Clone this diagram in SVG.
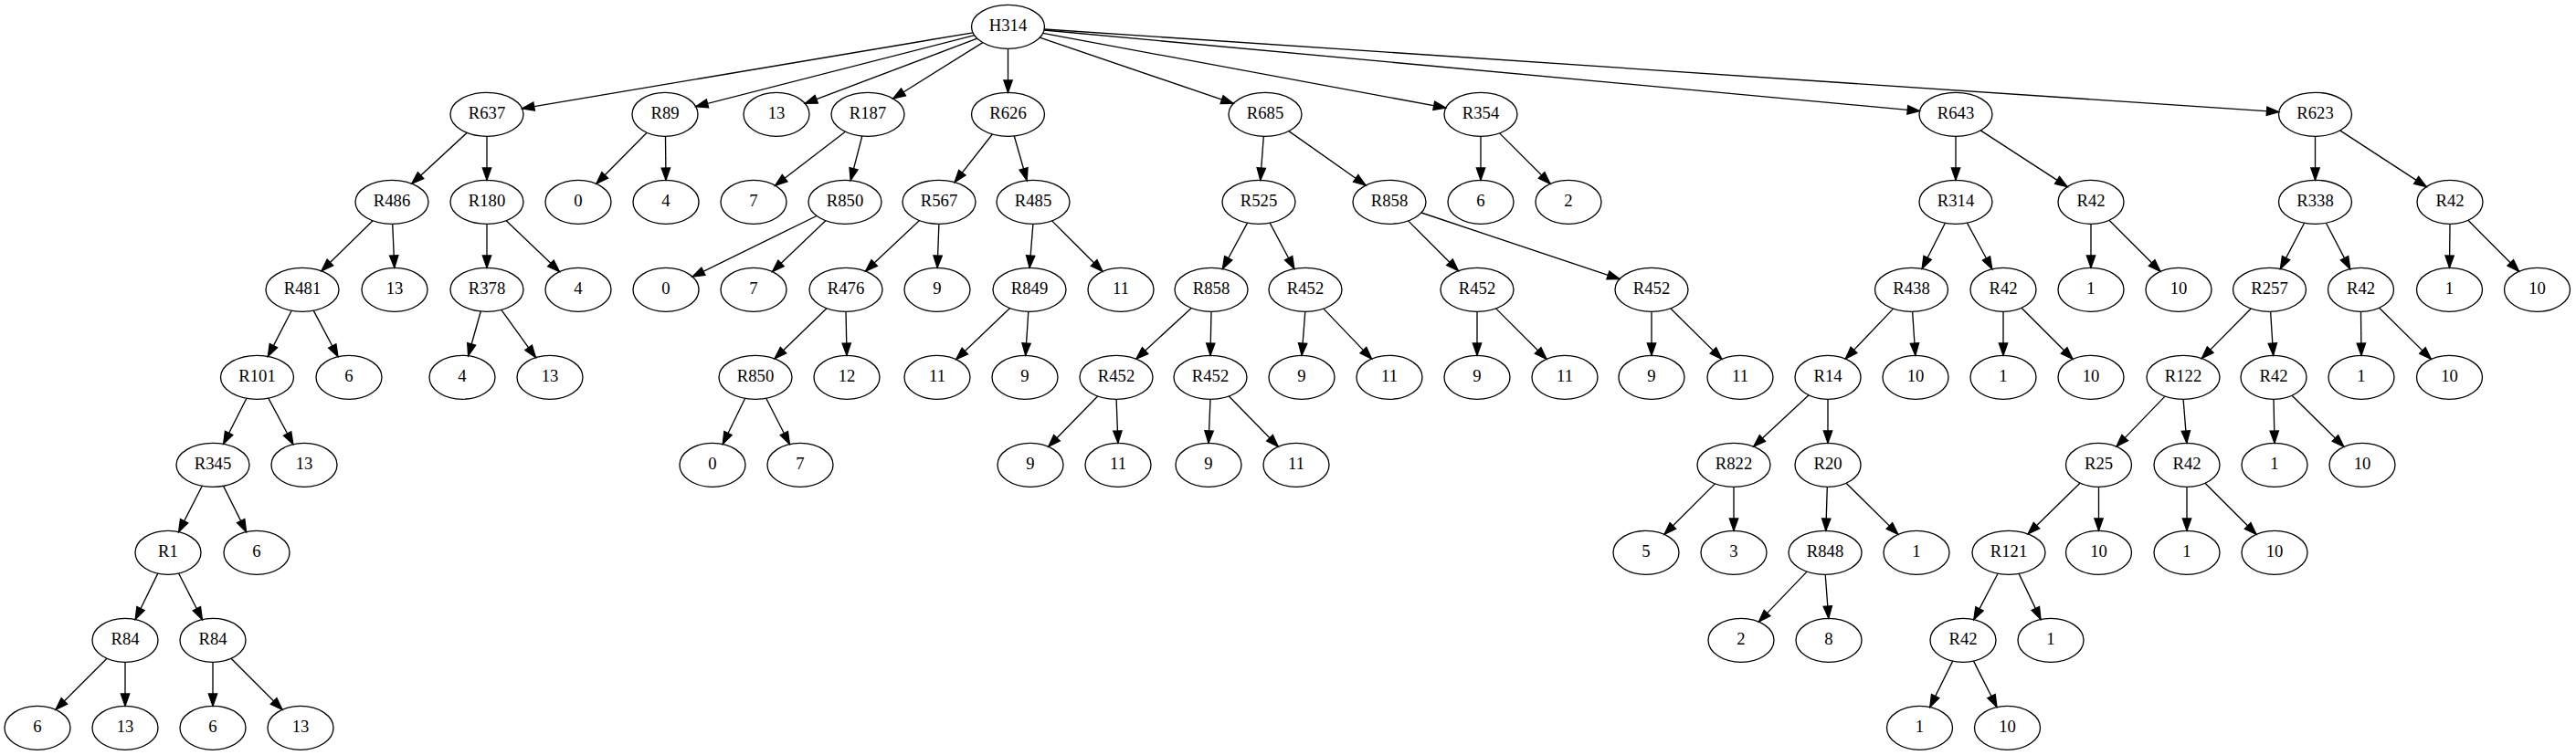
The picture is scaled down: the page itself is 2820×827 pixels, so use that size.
<svg xmlns="http://www.w3.org/2000/svg" width="2820" height="827" viewBox="0 0 2820 827">
<style>
.n ellipse{fill:none;stroke:#000;stroke-width:1.33}
.n text{font-family:"Liberation Serif","Times New Roman",serif;font-size:18.67px;text-anchor:middle;fill:#000}
#edges path{fill:none;stroke:#000;stroke-width:1.33;marker-end:url(#arr)}
</style>
<defs>
<marker id="arr" markerUnits="userSpaceOnUse" markerWidth="16" markerHeight="12" refX="13.3" refY="4.67" orient="auto" overflow="visible">
<path d="M0,0 L13.3,4.67 L0,9.33 Z" fill="#000" stroke="#000" stroke-width="1.33"/>
</marker>
</defs>
<rect width="2820" height="827" fill="#fff"/>
<g id="edges">
<path d="M1065.0,35.8L571.5,118.8"/>
<path d="M1066.7,38.7L761.6,116.7"/>
<path d="M1069.7,42.1L881.3,113.4"/>
<path d="M1075.8,46.6L977.7,108.0"/>
<path d="M1103.5,53.3L1103.5,101.3"/>
<path d="M1138.3,41.2L1350.2,113.4"/>
<path d="M1141.7,36.4L1582.8,118.2"/>
<path d="M1143.0,33.0L2101.5,121.6"/>
<path d="M1143.3,32.0L2494.8,122.6"/>
<path d="M511.2,145.4L450.8,201.2"/>
<path d="M533,149.3L533,197.3"/>
<path d="M708.2,145.3L652.8,201.3"/>
<path d="M728.5,149.3L729,197.3"/>
<path d="M925.4,144.2L848.6,203.2"/>
<path d="M943.8,149.0L931.2,197.6"/>
<path d="M1086.4,147.0L1045.1,199.6"/>
<path d="M1110.3,149.0L1124.2,197.7"/>
<path d="M1383.3,149.3L1379.8,197.3"/>
<path d="M1410.9,143.6L1495.1,203.0"/>
<path d="M1621,149.3L1621,197.3"/>
<path d="M1641.6,145.9L1697.0,201.3"/>
<path d="M2141,149.3L2141,197.3"/>
<path d="M2168.2,142.9L2263.2,204.6"/>
<path d="M2534.5,149.3L2534.5,197.3"/>
<path d="M2561.6,142.9L2656.3,204.6"/>
<path d="M408.1,241.8L351.9,296.8"/>
<path d="M429.7,245.3L431.8,293.3"/>
<path d="M533,245.3L533,293.3"/>
<path d="M554.2,241.7L612.5,297.6"/>
<path d="M894.0,236.5L758.0,303.1"/>
<path d="M903.8,241.7L845.5,297.6"/>
<path d="M1006.5,241.5L947.5,297.1"/>
<path d="M1027.9,245.3L1026.1,293.3"/>
<path d="M1130.9,245.3L1127.1,293.3"/>
<path d="M1151.6,241.9L1207.0,297.3"/>
<path d="M1365.6,244.1L1338.4,294.5"/>
<path d="M1390.1,244.1L1416.9,294.5"/>
<path d="M1541.6,241.9L1596.4,296.7"/>
<path d="M1556.0,233.0L1773.0,305.7"/>
<path d="M2129.4,244.3L2104.1,294.3"/>
<path d="M2153.4,244.1L2180.8,294.7"/>
<path d="M2289,245.3L2289,293.3"/>
<path d="M2309.0,241.3L2365.0,297.3"/>
<path d="M2522.6,244.2L2496.4,294.4"/>
<path d="M2546.4,244.2L2572.7,294.6"/>
<path d="M2682,245.3L2681.5,293.3"/>
<path d="M2701.9,241.3L2757.6,297.3"/>
<path d="M319.2,340.2L293.3,390.4"/>
<path d="M343.2,340.1L370.0,390.7"/>
<path d="M526.3,341.0L512.6,389.7"/>
<path d="M548.8,339.3L586.4,391.7"/>
<path d="M905.0,337.7L848.0,392.9"/>
<path d="M926,341.3L927,389.3"/>
<path d="M1105.6,337.6L1046.7,393.7"/>
<path d="M1125.8,341.3L1122.7,389.3"/>
<path d="M1304.2,337.4L1243.8,393.2"/>
<path d="M1326,341.3L1325,389.3"/>
<path d="M1428.8,341.3L1425.1,389.3"/>
<path d="M1448.9,338.1L1501.6,393.1"/>
<path d="M1617,341.3L1617,389.3"/>
<path d="M1637.6,337.9L1693.0,393.3"/>
<path d="M1808,341.3L1808,389.3"/>
<path d="M1828.7,337.8L1884.9,393.4"/>
<path d="M2072.6,338.1L2020.3,393.0"/>
<path d="M2093.6,341.3L2096.8,389.3"/>
<path d="M2193,341.3L2193,389.3"/>
<path d="M2213,337.3L2269,393.3"/>
<path d="M2464.2,338.0L2410.3,392.6"/>
<path d="M2485.6,341.3L2488.6,389.3"/>
<path d="M2584.5,341.3L2585,389.3"/>
<path d="M2604.6,337.2L2661.4,393.4"/>
<path d="M269.9,436.3L244.6,486.3"/>
<path d="M293.8,436.1L320.9,486.7"/>
<path d="M815.7,436.3L791.2,486.5"/>
<path d="M838.7,436.3L864.4,486.5"/>
<path d="M1201.7,434.0L1147.7,489.2"/>
<path d="M1222.1,437.3L1223.9,485.3"/>
<path d="M1325,437.3L1323,485.3"/>
<path d="M1345.3,434.0L1399.3,489.2"/>
<path d="M1980.1,432.8L1919.7,489.1"/>
<path d="M2001,437.3L2001,485.3"/>
<path d="M2370.0,434.1L2317.0,489.1"/>
<path d="M2390.1,437.3L2393.9,485.3"/>
<path d="M2489,437.3L2490,485.3"/>
<path d="M2509.1,433.2L2565.9,489.4"/>
<path d="M221.3,532.3L195.6,582.6"/>
<path d="M244.5,532.3L269.6,582.6"/>
<path d="M1877.4,529.9L1822.0,585.3"/>
<path d="M1898,533.3L1898,581.3"/>
<path d="M2000.3,533.3L1998.8,581.3"/>
<path d="M2021.1,529.2L2077.9,585.4"/>
<path d="M2277.2,529.1L2220.0,584.9"/>
<path d="M2297.5,533.3L2297.5,581.3"/>
<path d="M2394,533.3L2394,581.3"/>
<path d="M2414,529.3L2470,585.3"/>
<path d="M172.8,628.1L148.2,678.5"/>
<path d="M195.6,628.0L221.4,678.6"/>
<path d="M1978.1,626.1L1925.4,681.1"/>
<path d="M1998.2,629.3L2001.8,677.3"/>
<path d="M2187.1,628.2L2160.8,678.6"/>
<path d="M2210.1,628.4L2234.0,678.4"/>
<path d="M117,721.3L61,777.3"/>
<path d="M137,725.3L137,773.3"/>
<path d="M233,725.3L233,773.3"/>
<path d="M253,721.3L309,777.3"/>
<path d="M2137.7,724.1L2112.8,774.5"/>
<path d="M2160.5,724.1L2186.0,774.5"/>
</g>
<g id="n0" class="n"><ellipse cx="1103.5" cy="29.3" rx="40" ry="24"/><text x="1103.5" y="34.3">H314</text></g>
<g id="n1" class="n"><ellipse cx="533" cy="125.3" rx="40" ry="24"/><text x="533" y="130.3">R637</text></g>
<g id="n2" class="n"><ellipse cx="728" cy="125.3" rx="36" ry="24"/><text x="728" y="130.3">R89</text></g>
<g id="n3" class="n"><ellipse cx="850" cy="125.3" rx="36" ry="24"/><text x="850" y="130.3">13</text></g>
<g id="n4" class="n"><ellipse cx="950" cy="125.3" rx="40" ry="24"/><text x="950" y="130.3">R187</text></g>
<g id="n5" class="n"><ellipse cx="1103.5" cy="125.3" rx="40" ry="24"/><text x="1103.5" y="130.3">R626</text></g>
<g id="n6" class="n"><ellipse cx="1385" cy="125.3" rx="40" ry="24"/><text x="1385" y="130.3">R685</text></g>
<g id="n7" class="n"><ellipse cx="1621" cy="125.3" rx="40" ry="24"/><text x="1621" y="130.3">R354</text></g>
<g id="n8" class="n"><ellipse cx="2141" cy="125.3" rx="40" ry="24"/><text x="2141" y="130.3">R643</text></g>
<g id="n9" class="n"><ellipse cx="2534.5" cy="125.3" rx="40" ry="24"/><text x="2534.5" y="130.3">R623</text></g>
<g id="n10" class="n"><ellipse cx="429" cy="221.3" rx="40" ry="24"/><text x="429" y="226.3">R486</text></g>
<g id="n11" class="n"><ellipse cx="533" cy="221.3" rx="40" ry="24"/><text x="533" y="226.3">R180</text></g>
<g id="n12" class="n"><ellipse cx="633" cy="221.3" rx="36" ry="24"/><text x="633" y="226.3">0</text></g>
<g id="n13" class="n"><ellipse cx="729" cy="221.3" rx="36" ry="24"/><text x="729" y="226.3">4</text></g>
<g id="n14" class="n"><ellipse cx="825" cy="221.3" rx="36" ry="24"/><text x="825" y="226.3">7</text></g>
<g id="n15" class="n"><ellipse cx="925" cy="221.3" rx="40" ry="24"/><text x="925" y="226.3">R850</text></g>
<g id="n16" class="n"><ellipse cx="1028" cy="221.3" rx="40" ry="24"/><text x="1028" y="226.3">R567</text></g>
<g id="n17" class="n"><ellipse cx="1131" cy="221.3" rx="40" ry="24"/><text x="1131" y="226.3">R485</text></g>
<g id="n18" class="n"><ellipse cx="1378" cy="221.3" rx="40" ry="24"/><text x="1378" y="226.3">R525</text></g>
<g id="n19" class="n"><ellipse cx="1521" cy="221.3" rx="40" ry="24"/><text x="1521" y="226.3">R858</text></g>
<g id="n20" class="n"><ellipse cx="1621" cy="221.3" rx="36" ry="24"/><text x="1621" y="226.3">6</text></g>
<g id="n21" class="n"><ellipse cx="1717" cy="221.3" rx="36" ry="24"/><text x="1717" y="226.3">2</text></g>
<g id="n22" class="n"><ellipse cx="2141" cy="221.3" rx="40" ry="24"/><text x="2141" y="226.3">R314</text></g>
<g id="n23" class="n"><ellipse cx="2289" cy="221.3" rx="36" ry="24"/><text x="2289" y="226.3">R42</text></g>
<g id="n24" class="n"><ellipse cx="2534.5" cy="221.3" rx="40" ry="24"/><text x="2534.5" y="226.3">R338</text></g>
<g id="n25" class="n"><ellipse cx="2682" cy="221.3" rx="36" ry="24"/><text x="2682" y="226.3">R42</text></g>
<g id="n26" class="n"><ellipse cx="331" cy="317.3" rx="40" ry="24"/><text x="331" y="322.3">R481</text></g>
<g id="n27" class="n"><ellipse cx="432" cy="317.3" rx="36" ry="24"/><text x="432" y="322.3">13</text></g>
<g id="n28" class="n"><ellipse cx="533" cy="317.3" rx="40" ry="24"/><text x="533" y="322.3">R378</text></g>
<g id="n29" class="n"><ellipse cx="633" cy="317.3" rx="36" ry="24"/><text x="633" y="322.3">4</text></g>
<g id="n30" class="n"><ellipse cx="729" cy="317.3" rx="36" ry="24"/><text x="729" y="322.3">0</text></g>
<g id="n31" class="n"><ellipse cx="825" cy="317.3" rx="36" ry="24"/><text x="825" y="322.3">7</text></g>
<g id="n32" class="n"><ellipse cx="926" cy="317.3" rx="40" ry="24"/><text x="926" y="322.3">R476</text></g>
<g id="n33" class="n"><ellipse cx="1026" cy="317.3" rx="36" ry="24"/><text x="1026" y="322.3">9</text></g>
<g id="n34" class="n"><ellipse cx="1127" cy="317.3" rx="40" ry="24"/><text x="1127" y="322.3">R849</text></g>
<g id="n35" class="n"><ellipse cx="1227" cy="317.3" rx="36" ry="24"/><text x="1227" y="322.3">11</text></g>
<g id="n36" class="n"><ellipse cx="1326" cy="317.3" rx="40" ry="24"/><text x="1326" y="322.3">R858</text></g>
<g id="n37" class="n"><ellipse cx="1429" cy="317.3" rx="40" ry="24"/><text x="1429" y="322.3">R452</text></g>
<g id="n38" class="n"><ellipse cx="1617" cy="317.3" rx="40" ry="24"/><text x="1617" y="322.3">R452</text></g>
<g id="n39" class="n"><ellipse cx="1808" cy="317.3" rx="40" ry="24"/><text x="1808" y="322.3">R452</text></g>
<g id="n40" class="n"><ellipse cx="2092.5" cy="317.3" rx="40" ry="24"/><text x="2092.5" y="322.3">R438</text></g>
<g id="n41" class="n"><ellipse cx="2193" cy="317.3" rx="36" ry="24"/><text x="2193" y="322.3">R42</text></g>
<g id="n42" class="n"><ellipse cx="2289" cy="317.3" rx="36" ry="24"/><text x="2289" y="322.3">1</text></g>
<g id="n43" class="n"><ellipse cx="2385" cy="317.3" rx="36" ry="24"/><text x="2385" y="322.3">10</text></g>
<g id="n44" class="n"><ellipse cx="2484.5" cy="317.3" rx="40" ry="24"/><text x="2484.5" y="322.3">R257</text></g>
<g id="n45" class="n"><ellipse cx="2584.5" cy="317.3" rx="36" ry="24"/><text x="2584.5" y="322.3">R42</text></g>
<g id="n46" class="n"><ellipse cx="2681.5" cy="317.3" rx="36" ry="24"/><text x="2681.5" y="322.3">1</text></g>
<g id="n47" class="n"><ellipse cx="2777.5" cy="317.3" rx="36" ry="24"/><text x="2777.5" y="322.3">10</text></g>
<g id="n48" class="n"><ellipse cx="281.5" cy="413.3" rx="40" ry="24"/><text x="281.5" y="418.3">R101</text></g>
<g id="n49" class="n"><ellipse cx="382" cy="413.3" rx="36" ry="24"/><text x="382" y="418.3">6</text></g>
<g id="n50" class="n"><ellipse cx="506" cy="413.3" rx="36" ry="24"/><text x="506" y="418.3">4</text></g>
<g id="n51" class="n"><ellipse cx="602" cy="413.3" rx="36" ry="24"/><text x="602" y="418.3">13</text></g>
<g id="n52" class="n"><ellipse cx="827" cy="413.3" rx="40" ry="24"/><text x="827" y="418.3">R850</text></g>
<g id="n53" class="n"><ellipse cx="927" cy="413.3" rx="36" ry="24"/><text x="927" y="418.3">12</text></g>
<g id="n54" class="n"><ellipse cx="1026" cy="413.3" rx="36" ry="24"/><text x="1026" y="418.3">11</text></g>
<g id="n55" class="n"><ellipse cx="1122" cy="413.3" rx="36" ry="24"/><text x="1122" y="418.3">9</text></g>
<g id="n56" class="n"><ellipse cx="1222" cy="413.3" rx="40" ry="24"/><text x="1222" y="418.3">R452</text></g>
<g id="n57" class="n"><ellipse cx="1325" cy="413.3" rx="40" ry="24"/><text x="1325" y="418.3">R452</text></g>
<g id="n58" class="n"><ellipse cx="1425" cy="413.3" rx="36" ry="24"/><text x="1425" y="418.3">9</text></g>
<g id="n59" class="n"><ellipse cx="1521" cy="413.3" rx="36" ry="24"/><text x="1521" y="418.3">11</text></g>
<g id="n60" class="n"><ellipse cx="1617" cy="413.3" rx="36" ry="24"/><text x="1617" y="418.3">9</text></g>
<g id="n61" class="n"><ellipse cx="1713" cy="413.3" rx="36" ry="24"/><text x="1713" y="418.3">11</text></g>
<g id="n62" class="n"><ellipse cx="1808" cy="413.3" rx="36" ry="24"/><text x="1808" y="418.3">9</text></g>
<g id="n63" class="n"><ellipse cx="1905" cy="413.3" rx="36" ry="24"/><text x="1905" y="418.3">11</text></g>
<g id="n64" class="n"><ellipse cx="2001" cy="413.3" rx="36" ry="24"/><text x="2001" y="418.3">R14</text></g>
<g id="n65" class="n"><ellipse cx="2097" cy="413.3" rx="36" ry="24"/><text x="2097" y="418.3">10</text></g>
<g id="n66" class="n"><ellipse cx="2193" cy="413.3" rx="36" ry="24"/><text x="2193" y="418.3">1</text></g>
<g id="n67" class="n"><ellipse cx="2289" cy="413.3" rx="36" ry="24"/><text x="2289" y="418.3">10</text></g>
<g id="n68" class="n"><ellipse cx="2390" cy="413.3" rx="40" ry="24"/><text x="2390" y="418.3">R122</text></g>
<g id="n69" class="n"><ellipse cx="2489" cy="413.3" rx="36" ry="24"/><text x="2489" y="418.3">R42</text></g>
<g id="n70" class="n"><ellipse cx="2585" cy="413.3" rx="36" ry="24"/><text x="2585" y="418.3">1</text></g>
<g id="n71" class="n"><ellipse cx="2681.5" cy="413.3" rx="36" ry="24"/><text x="2681.5" y="418.3">10</text></g>
<g id="n72" class="n"><ellipse cx="233" cy="509.3" rx="40" ry="24"/><text x="233" y="514.3">R345</text></g>
<g id="n73" class="n"><ellipse cx="333" cy="509.3" rx="36" ry="24"/><text x="333" y="514.3">13</text></g>
<g id="n74" class="n"><ellipse cx="780" cy="509.3" rx="36" ry="24"/><text x="780" y="514.3">0</text></g>
<g id="n75" class="n"><ellipse cx="876" cy="509.3" rx="36" ry="24"/><text x="876" y="514.3">7</text></g>
<g id="n76" class="n"><ellipse cx="1128" cy="509.3" rx="36" ry="24"/><text x="1128" y="514.3">9</text></g>
<g id="n77" class="n"><ellipse cx="1224" cy="509.3" rx="36" ry="24"/><text x="1224" y="514.3">11</text></g>
<g id="n78" class="n"><ellipse cx="1323" cy="509.3" rx="36" ry="24"/><text x="1323" y="514.3">9</text></g>
<g id="n79" class="n"><ellipse cx="1419" cy="509.3" rx="36" ry="24"/><text x="1419" y="514.3">11</text></g>
<g id="n80" class="n"><ellipse cx="1898" cy="509.3" rx="40" ry="24"/><text x="1898" y="514.3">R822</text></g>
<g id="n81" class="n"><ellipse cx="2001" cy="509.3" rx="36" ry="24"/><text x="2001" y="514.3">R20</text></g>
<g id="n82" class="n"><ellipse cx="2297.5" cy="509.3" rx="36" ry="24"/><text x="2297.5" y="514.3">R25</text></g>
<g id="n83" class="n"><ellipse cx="2394" cy="509.3" rx="36" ry="24"/><text x="2394" y="514.3">R42</text></g>
<g id="n84" class="n"><ellipse cx="2490" cy="509.3" rx="36" ry="24"/><text x="2490" y="514.3">1</text></g>
<g id="n85" class="n"><ellipse cx="2586" cy="509.3" rx="36" ry="24"/><text x="2586" y="514.3">10</text></g>
<g id="n86" class="n"><ellipse cx="184" cy="605.3" rx="36" ry="24"/><text x="184" y="610.3">R1</text></g>
<g id="n87" class="n"><ellipse cx="281" cy="605.3" rx="36" ry="24"/><text x="281" y="610.3">6</text></g>
<g id="n88" class="n"><ellipse cx="1802" cy="605.3" rx="36" ry="24"/><text x="1802" y="610.3">5</text></g>
<g id="n89" class="n"><ellipse cx="1898" cy="605.3" rx="36" ry="24"/><text x="1898" y="610.3">3</text></g>
<g id="n90" class="n"><ellipse cx="1998" cy="605.3" rx="40" ry="24"/><text x="1998" y="610.3">R848</text></g>
<g id="n91" class="n"><ellipse cx="2098" cy="605.3" rx="36" ry="24"/><text x="2098" y="610.3">1</text></g>
<g id="n92" class="n"><ellipse cx="2199" cy="605.3" rx="40" ry="24"/><text x="2199" y="610.3">R121</text></g>
<g id="n93" class="n"><ellipse cx="2297.5" cy="605.3" rx="36" ry="24"/><text x="2297.5" y="610.3">10</text></g>
<g id="n94" class="n"><ellipse cx="2394" cy="605.3" rx="36" ry="24"/><text x="2394" y="610.3">1</text></g>
<g id="n95" class="n"><ellipse cx="2490" cy="605.3" rx="36" ry="24"/><text x="2490" y="610.3">10</text></g>
<g id="n96" class="n"><ellipse cx="137" cy="701.3" rx="36" ry="24"/><text x="137" y="706.3">R84</text></g>
<g id="n97" class="n"><ellipse cx="233" cy="701.3" rx="36" ry="24"/><text x="233" y="706.3">R84</text></g>
<g id="n98" class="n"><ellipse cx="1906" cy="701.3" rx="36" ry="24"/><text x="1906" y="706.3">2</text></g>
<g id="n99" class="n"><ellipse cx="2002" cy="701.3" rx="36" ry="24"/><text x="2002" y="706.3">8</text></g>
<g id="n100" class="n"><ellipse cx="2149" cy="701.3" rx="36" ry="24"/><text x="2149" y="706.3">R42</text></g>
<g id="n101" class="n"><ellipse cx="2245" cy="701.3" rx="36" ry="24"/><text x="2245" y="706.3">1</text></g>
<g id="n102" class="n"><ellipse cx="41" cy="797.3" rx="36" ry="24"/><text x="41" y="802.3">6</text></g>
<g id="n103" class="n"><ellipse cx="137" cy="797.3" rx="36" ry="24"/><text x="137" y="802.3">13</text></g>
<g id="n104" class="n"><ellipse cx="233" cy="797.3" rx="36" ry="24"/><text x="233" y="802.3">6</text></g>
<g id="n105" class="n"><ellipse cx="329" cy="797.3" rx="36" ry="24"/><text x="329" y="802.3">13</text></g>
<g id="n106" class="n"><ellipse cx="2101.5" cy="797.3" rx="36" ry="24"/><text x="2101.5" y="802.3">1</text></g>
<g id="n107" class="n"><ellipse cx="2197.5" cy="797.3" rx="36" ry="24"/><text x="2197.5" y="802.3">10</text></g>
</svg>
